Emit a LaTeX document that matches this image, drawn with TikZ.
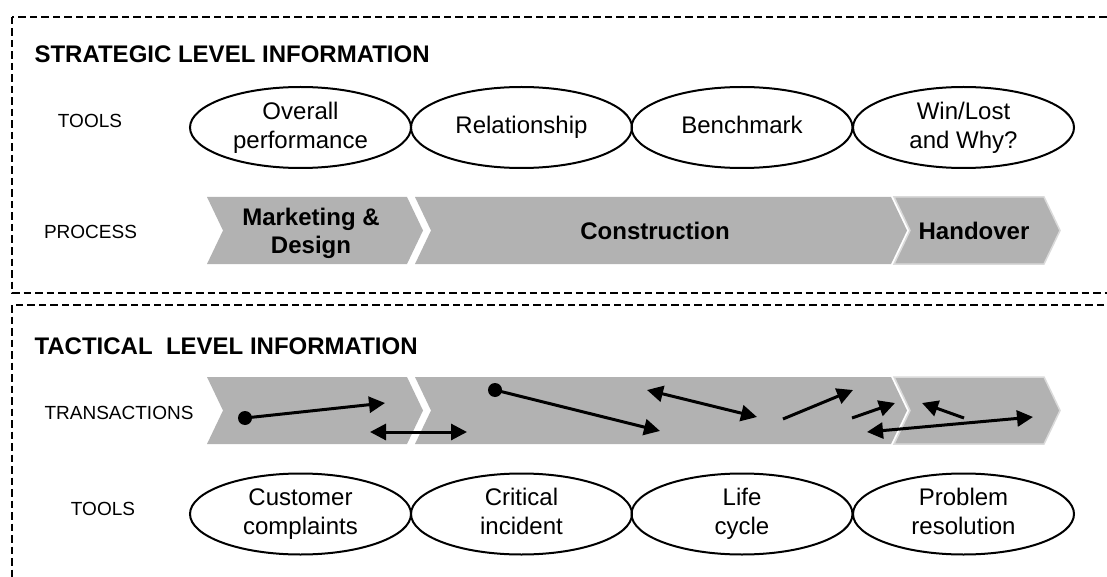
\documentclass[tikz,border=0pt]{standalone}
\usepackage{fontspec}
\setmainfont{Liberation Sans}
\usetikzlibrary{arrows.meta,shapes.geometric}
\definecolor{chevfill}{RGB}{178,178,178}
\definecolor{chevedge}{RGB}{218,218,218}
\tikzset{
  frame/.style={line width=2.4pt, dash pattern=on 7.5pt off 4pt},
  tool/.style={ellipse, draw, line width=2pt, minimum width=221pt, minimum height=81pt, inner sep=0pt, align=center, font=\fontsize{24}{29}\selectfont},
  chev/.style={fill=chevfill},
  chevlast/.style={fill=chevfill, draw=chevedge, line width=1.5pt},
  chevtext/.style={align=center, font=\fontsize{24}{28}\selectfont\bfseries},
  title/.style={anchor=base west, font=\fontsize{24}{29}\selectfont\bfseries},
  rowlabel/.style={anchor=base, font=\fontsize{19}{23}\selectfont},
  trans/.style={line width=3pt, -{Triangle[length=16pt,width=16pt]}},
  transboth/.style={line width=3pt, {Triangle[length=16pt,width=16pt]}-{Triangle[length=16pt,width=16pt]}},
  dot/.style={circle, fill=black, inner sep=0pt, minimum size=14pt},
}
\newcommand\chevpath[5]{%
  \path[#1] (#2,#4) -- (#3,#4) -- ({#3+16},{(#4+#5)/2}) -- (#3,#5) -- (#2,#5) -- ({#2+16},{(#4+#5)/2}) -- cycle;}
\begin{document}
\begin{tikzpicture}[x=1pt,y=-1pt]
\useasboundingbox (0,0) rectangle (1107,577);
\clip (0,0) rectangle (1107,577);
\fill[white] (0,0) rectangle (1107,577);

% frames
\draw[frame] (12,17) rectangle (1140,293);
\draw[frame] (12,305) rectangle (1140,620);

% strategic level
\node[title] (t1) at (31,63) {STRATEGIC LEVEL INFORMATION};
\node[rowlabel] (l1) at (90,128) {TOOLS};
\node[rowlabel] (l2) at (90.5,238) {PROCESS};

\node[tool] (op)  at (300.5,127.5) {Overall\\performance};
\node[tool] (rel) at (521.5,127.5) {Relationship};
\node[tool] (ben) at (742,127.5) {Benchmark\vphantom{y}};
\node[tool] (win) at (963.5,127.5) {Win/Lost\\and Why?};

\chevpath{chev}{207}{407}{197}{264}
\chevpath{chev}{415}{891}{197}{264}
\chevpath{chevlast}{894}{1044}{197}{264}
\node[chevtext] (mkt)  at (311,233.5) {Marketing \&\\Design};
\node[chevtext] (cons) at (655,230.5) {Construction};
\node[chevtext] (hand) at (974,230.5) {Handover};

% tactical level
\node[title] (t2) at (31,354) {TACTICAL\ \ LEVEL INFORMATION};
\node[rowlabel] (l3) at (119,419) {TRANSACTIONS};
\node[rowlabel] (l4) at (103,515) {TOOLS};

\chevpath{chev}{207}{407}{377}{444}
\chevpath{chev}{415}{891}{377}{444}
\chevpath{chevlast}{894}{1044}{377}{444}

\node[dot] (d1) at (245,418) {};
\coordinate (e1) at (385,403);
\draw[trans] (d1.center) -- (e1);

\coordinate (s2) at (370,432);
\coordinate (e2) at (467,432);
\draw[transboth] (s2) -- (e2);

\node[dot] (d3) at (495,390) {};
\coordinate (e3) at (660,431);
\draw[trans] (d3.center) -- (e3);

\coordinate (s4) at (647,390);
\coordinate (e4) at (757,417);
\draw[transboth] (s4) -- (e4);

\coordinate (s5) at (783,419);
\coordinate (e5) at (853,390);
\draw[trans] (s5) -- (e5);

\coordinate (s6) at (852,418);
\coordinate (e6) at (895,403);
\draw[trans] (s6) -- (e6);

\coordinate (s7) at (964,418);
\coordinate (e7) at (922,403);
\draw[trans] (s7) -- (e7);

\coordinate (s8) at (867,432);
\coordinate (e8) at (1033,417);
\draw[transboth] (s8) -- (e8);

\node[tool] (cc) at (300.5,514) {Customer\\complaints};
\node[tool] (ci) at (521.5,514) {Critical\\incident\vphantom{y}};
\node[tool] (lc) at (742,514) {Life\\cycle};
\node[tool] (pr) at (963.5,514) {Problem\\resolution\vphantom{y}};
\end{tikzpicture}
\end{document}
